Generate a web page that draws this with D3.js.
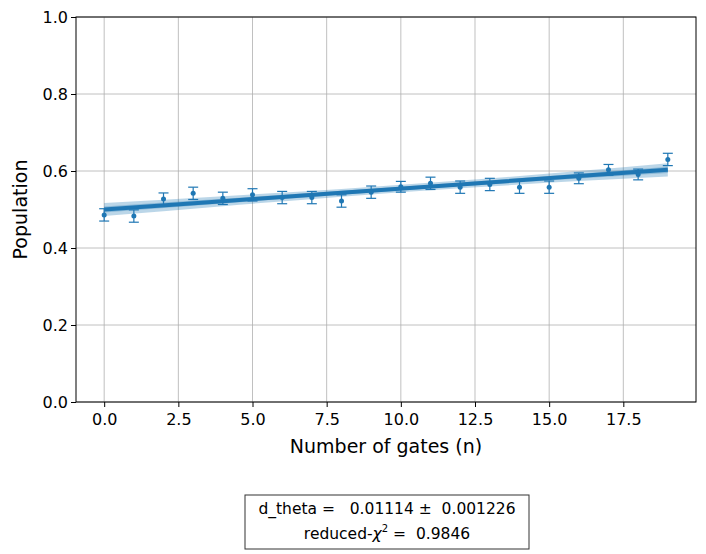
<!DOCTYPE html><html><head><meta charset="utf-8"><script src="https://cdn.jsdelivr.net/npm/d3@7"></script>
<style>body{margin:0;background:#fff}text{font-family:"DejaVu Sans"}</style></head><body><svg id="c" width="706" height="554"></svg>
<script>
const gates=d3.range(0,20);
const pop=[0.486,0.483,0.527,0.542,0.529,0.538,0.531,0.531,0.522,0.545,0.559,0.568,0.558,0.565,0.558,0.558,0.581,0.603,0.591,0.630];
const err=[0.016,0.016,0.016,0.016,0.016,0.016,0.016,0.016,0.016,0.016,0.014,0.016,0.016,0.016,0.016,0.016,0.014,0.014,0.014,0.016];
const fitN=[0,4,8,12,16,19];
const fitY=[0.500,0.5217,0.5434,0.5651,0.5868,0.603];
const outerHalf=[0.017,0.013,0.010,0.010,0.013,0.017];
const innerHalf=[0.008,0.006,0.005,0.005,0.006,0.008];
const xTicks=[0,2.5,5,7.5,10,12.5,15,17.5];
const yTicks=[0,0.2,0.4,0.6,0.8,1.0];
const svg=d3.select("#c");
const L=76,R=696,T=17,B=402;
const x=d3.scaleLinear().domain([-0.95,19.95]).range([L,R]);
const y=d3.scaleLinear().domain([0,1]).range([B,T]);
const g=svg.append("g");
g.selectAll(".gx").data(xTicks).join("line").attr("x1",d=>x(d)).attr("x2",d=>x(d)).attr("y1",T).attr("y2",B).attr("stroke","#b0b0b0").attr("stroke-width",0.8);
g.selectAll(".gy").data(yTicks).join("line").attr("y1",d=>y(d)).attr("y2",d=>y(d)).attr("x1",L).attr("x2",R).attr("stroke","#b0b0b0").attr("stroke-width",0.8);
const c="#1f77b4";
const area=h=>d3.area().x((d,i)=>x(fitN[i])).y0((d,i)=>y(fitY[i]-h[i])).y1((d,i)=>y(fitY[i]+h[i])).curve(d3.curveMonotoneX);
g.append("path").attr("d",area(outerHalf)(fitN)).attr("fill",c).attr("opacity",0.3);
g.append("path").attr("d",area(innerHalf)(fitN)).attr("fill",c).attr("opacity",0.3);
g.append("path").attr("d",d3.line().x((d,i)=>x(fitN[i])).y((d,i)=>y(fitY[i]))(fitN)).attr("stroke",c).attr("stroke-width",4).attr("fill","none");
const eb=g.selectAll(".eb").data(gates).join("g").attr("stroke",c).attr("stroke-width",1.2);
eb.append("line").attr("x1",d=>x(d)).attr("x2",d=>x(d)).attr("y1",(d,i)=>y(pop[i]-err[i])).attr("y2",(d,i)=>y(pop[i]+err[i]));
[-1,1].forEach(s=>eb.append("line").attr("x1",d=>x(d)-5).attr("x2",d=>x(d)+5).attr("y1",(d,i)=>y(pop[i]+s*err[i])).attr("y2",(d,i)=>y(pop[i]+s*err[i])));
g.selectAll(".pt").data(gates).join("circle").attr("cx",d=>x(d)).attr("cy",(d,i)=>y(pop[i])).attr("r",2.5).attr("fill",c);
svg.append("g").attr("transform",`translate(0,${B})`).call(d3.axisBottom(x).tickValues(xTicks).tickFormat(d3.format(".1f")).tickSize(5)).call(a=>{a.select(".domain").remove();a.selectAll("text").attr("font-size",16).attr("font-family","DejaVu Sans").attr("fill","#000").attr("dy","0.95em");a.selectAll("line").attr("stroke","#000")});
svg.append("g").attr("transform",`translate(${L},0)`).call(d3.axisLeft(y).tickValues(yTicks).tickFormat(d3.format(".1f")).tickSize(5)).call(a=>{a.select(".domain").remove();a.selectAll("text").attr("font-size",16).attr("font-family","DejaVu Sans").attr("fill","#000");a.selectAll("line").attr("stroke","#000")});
svg.append("rect").attr("x",L).attr("y",T).attr("width",R-L).attr("height",B-T).attr("fill","none").attr("stroke","#000").attr("stroke-width",1);
svg.append("text").attr("x",(L+R)/2).attr("y",453).attr("text-anchor","middle").attr("font-size",19).text("Number of gates (n)");
svg.append("text").attr("transform",`translate(27,${(T+B)/2}) rotate(-90)`).attr("text-anchor","middle").attr("font-size",19).text("Population");
svg.append("rect").attr("x",245).attr("y",495).attr("width",284).attr("height",54).attr("fill","#fff").attr("stroke","#333");
svg.append("text").attr("x",387).attr("y",514).attr("text-anchor","middle").attr("font-size",15.5).attr("xml:space","preserve").text("d_theta =   0.01114 ±  0.001226");
const t2=svg.append("text").attr("x",387).attr("y",539).attr("text-anchor","middle").attr("font-size",15.5);
t2.append("tspan").text("reduced-");t2.append("tspan").attr("font-style","italic").text("χ");t2.append("tspan").attr("font-size",10).attr("dy",-7).text("2");t2.append("tspan").attr("dy",7).attr("xml:space","preserve").text(" =  0.9846");
</script></body></html>
